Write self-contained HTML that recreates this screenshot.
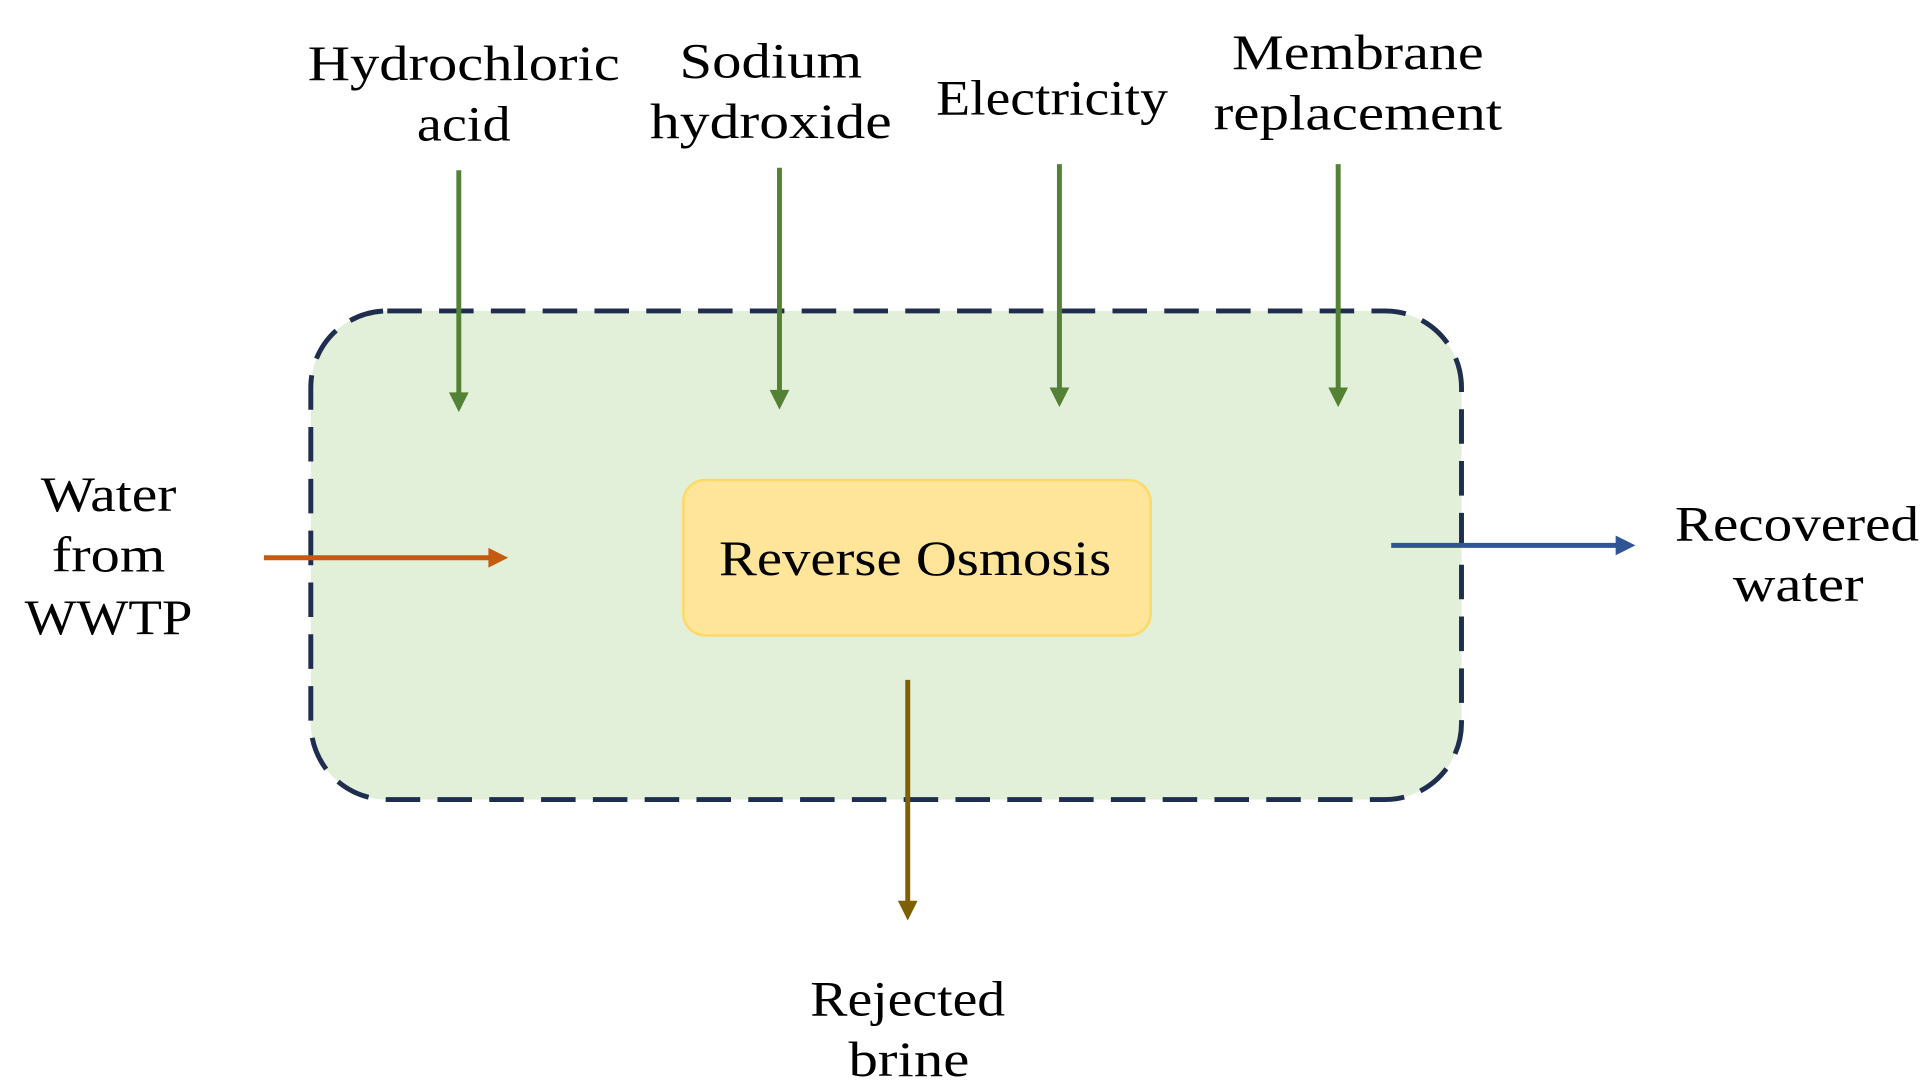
<!DOCTYPE html>
<html><head><meta charset="utf-8"><style>
html,body{margin:0;padding:0;background:#fff;}
svg{display:block;}
text{font-family:"Liberation Serif",serif;font-size:40px;fill:#000;text-anchor:middle;}
</style></head><body>
<svg width="1924" height="1092" viewBox="0 0 1560 885" preserveAspectRatio="none" xmlns="http://www.w3.org/2000/svg">
<rect x="252" y="252" width="933" height="396" rx="62" fill="#e2efd9" stroke="#1f2d4e" stroke-width="4" stroke-dasharray="28 14"/>
<rect x="554" y="389" width="379" height="126" rx="18" fill="#fee599" stroke="#ffd966" stroke-width="2"/>
<text x="742" y="466" textLength="318" lengthAdjust="spacingAndGlyphs">Reverse Osmosis</text>
<g stroke="#548235" stroke-width="4">
<line x1="372" y1="138" x2="372" y2="320"/>
<line x1="632" y1="136" x2="632" y2="318"/>
<line x1="859" y1="133" x2="859" y2="316"/>
<line x1="1085" y1="133" x2="1085" y2="316"/>
</g>
<g fill="#548235">
<path d="M364,318 L380,318 L372,334z"/>
<path d="M624,316 L640,316 L632,332z"/>
<path d="M851,314 L867,314 L859,330z"/>
<path d="M1077,314 L1093,314 L1085,330z"/>
</g>
<line x1="214" y1="452" x2="398" y2="452" stroke="#c55a11" stroke-width="4"/>
<path d="M396,444 L412,452 L396,460z" fill="#c55a11"/>
<line x1="1128" y1="442" x2="1312" y2="442" stroke="#2f5597" stroke-width="4"/>
<path d="M1310,434 L1326,442 L1310,450z" fill="#2f5597"/>
<line x1="736" y1="551" x2="736" y2="732" stroke="#7f6000" stroke-width="4"/>
<path d="M728,730 L744,730 L736,746z" fill="#7f6000"/>
<text x="376" y="65" textLength="253" lengthAdjust="spacingAndGlyphs">Hydrochloric</text>
<text x="376" y="114" textLength="76" lengthAdjust="spacingAndGlyphs">acid</text>
<text x="625" y="63" textLength="148" lengthAdjust="spacingAndGlyphs">Sodium</text>
<text x="625" y="112" textLength="196" lengthAdjust="spacingAndGlyphs">hydroxide</text>
<text x="853" y="93" textLength="188" lengthAdjust="spacingAndGlyphs">Electricity</text>
<text x="1101" y="56" textLength="204" lengthAdjust="spacingAndGlyphs">Membrane</text>
<text x="1101" y="105" textLength="234" lengthAdjust="spacingAndGlyphs">replacement</text>
<text x="88" y="414" textLength="110" lengthAdjust="spacingAndGlyphs">Water</text>
<text x="88" y="463" textLength="92" lengthAdjust="spacingAndGlyphs">from</text>
<text x="88" y="514" textLength="136" lengthAdjust="spacingAndGlyphs">WWTP</text>
<text x="1457" y="438" textLength="198" lengthAdjust="spacingAndGlyphs">Recovered</text>
<text x="1458" y="487" textLength="106" lengthAdjust="spacingAndGlyphs">water</text>
<text x="736" y="823" textLength="158" lengthAdjust="spacingAndGlyphs">Rejected</text>
<text x="737" y="872" textLength="98" lengthAdjust="spacingAndGlyphs">brine</text>
</svg>
</body></html>
